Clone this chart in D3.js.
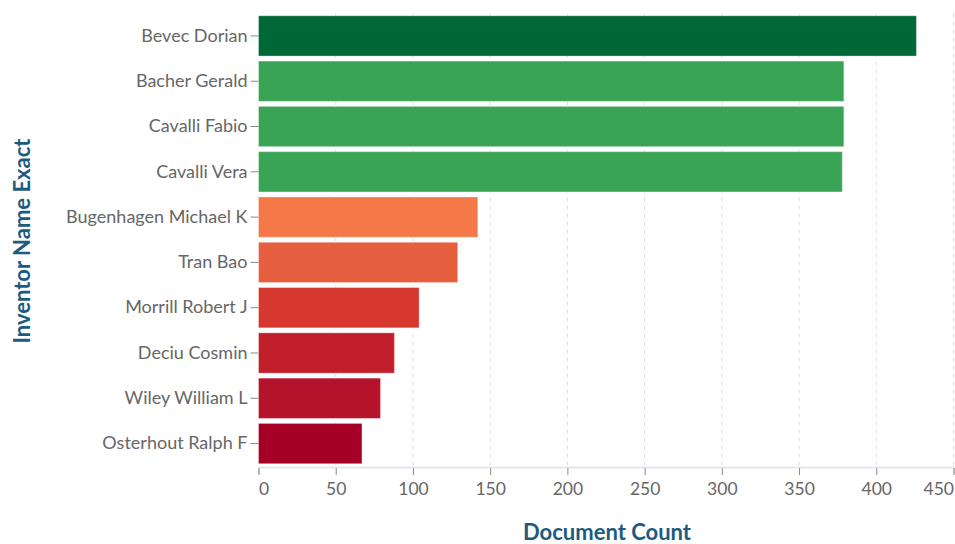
<!DOCTYPE html>
<html>
<head>
<meta charset="utf-8">
<script src="https://cdn.jsdelivr.net/npm/d3@7"></script>
<style>
  html, body { margin: 0; padding: 0; background: #fff; }
  svg { display: block; }
  .tick text { font-family: Lato, "Open Sans", sans-serif; }
</style>
</head>
<body>
<svg id="chart" width="955" height="544"></svg>
<script>
const inventors = ["Bevec Dorian", "Bacher Gerald", "Cavalli Fabio", "Cavalli Vera",
  "Bugenhagen Michael K", "Tran Bao", "Morrill Robert J", "Deciu Cosmin",
  "Wiley William L", "Osterhout Ralph F"];
const documentCounts = [426, 379, 379, 378, 142, 129, 104, 88, 79, 67];
const barColors = ["#006837", "#39a456", "#39a456", "#39a456", "#f47848",
  "#e6603f", "#d6382f", "#c01f2b", "#b5132b", "#a50026"];
const xTicks = [0, 50, 100, 150, 200, 250, 300, 350, 400, 450];
const xTitle = "Document Count";
const yTitle = "Inventor Name Exact";

const svg = d3.select("#chart");
const mLeft = 258.5, mRight = 953.5, mTop = 13.5, mBottom = 466;

const x = d3.scaleLinear().domain([0, 450]).range([mLeft, mRight]);
const y = d3.scaleBand().domain(inventors).range([mTop, mBottom])
  .paddingInner(0.11).paddingOuter(0.05);
const color = d3.scaleOrdinal().domain(inventors).range(barColors);
const data = inventors.map((n, i) => ({ name: n, value: documentCounts[i] }));

// grid
svg.append("g").selectAll("line").data(xTicks.slice(1)).join("line")
  .attr("x1", d => x(d)).attr("x2", d => x(d))
  .attr("y1", mTop).attr("y2", mBottom)
  .attr("stroke", "#d8dfeb").attr("stroke-width", 1)
  .attr("stroke-dasharray", "4,4");

// bars
svg.append("g").selectAll("rect").data(data).join("rect")
  .attr("x", x(0))
  .attr("y", d => y(d.name))
  .attr("width", d => x(d.value) - x(0))
  .attr("height", y.bandwidth())
  .attr("fill", d => color(d.name))
  .attr("stroke", "#ffffff").attr("stroke-opacity", 0.35).attr("stroke-width", 1);

// x axis
const xAxis = svg.append("g").attr("transform", `translate(0,${mBottom + 1})`)
  .call(d3.axisBottom(x).tickValues(xTicks).tickSize(7).tickPadding(5));
xAxis.select(".domain").attr("stroke", "#e3e7ee").attr("stroke-width", 2);
xAxis.selectAll(".tick line").attr("stroke", "#888").attr("transform", "translate(0,1)");
xAxis.selectAll(".tick text").attr("fill", "#666").attr("font-size", 17.5)
  .attr("text-anchor", (d, i) => i === 0 ? "start" : (i === xTicks.length - 1 ? "end" : "middle"))
  .attr("dy", "0.9em");

// y axis
const yAxis = svg.append("g").attr("transform", `translate(${mLeft},0)`)
  .call(d3.axisLeft(y).tickSize(8).tickPadding(3));
yAxis.select(".domain").remove();
yAxis.selectAll(".tick line").attr("stroke", "#888");
yAxis.selectAll(".tick text").attr("fill", "#666").attr("font-size", 18);

// titles
svg.append("text").text(xTitle)
  .attr("x", 607).attr("y", 540)
  .attr("text-anchor", "middle")
  .attr("font-family", "Lato, 'Open Sans', sans-serif")
  .attr("font-weight", "bold").attr("font-size", 22).attr("fill", "#1c5b80");
svg.append("text").text(yTitle)
  .attr("transform", `translate(30,241) rotate(-90)`)
  .attr("text-anchor", "middle")
  .attr("font-family", "Lato, 'Open Sans', sans-serif")
  .attr("font-weight", "bold").attr("font-size", 22).attr("fill", "#1c5b80");
</script>
</body>
</html>
